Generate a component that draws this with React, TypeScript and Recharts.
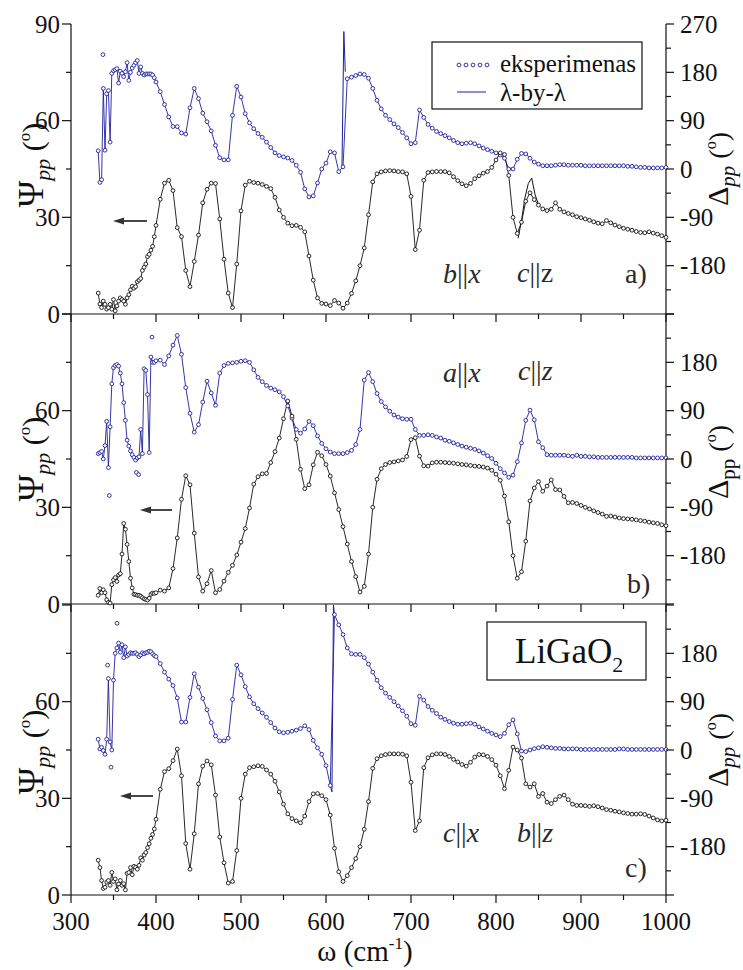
import { ComposedChart, Line, XAxis, YAxis } from 'recharts';

// shared wavenumber grid (cm-1) for all three panels
const omega = [
  332, 334, 336, 338, 340, 342, 344, 346, 348, 350,
  352, 354, 356, 358, 360, 362, 364, 366, 368, 370,
  372, 374, 376, 378, 380, 382, 384, 386, 388, 390,
  392, 394, 396, 398, 400,
  405, 410, 415, 420, 425, 430, 435, 440, 445, 450,
  455, 460, 465, 470, 475, 480, 485, 490, 495, 500,
  505, 510, 515, 520, 525, 530, 535, 540, 545, 550,
  555, 560, 565, 570, 575, 580, 585, 590, 595, 600,
  605, 610, 615, 620, 625, 630, 635, 640, 645, 650,
  655, 660, 665, 670, 675, 680, 685, 690, 695, 700,
  705, 710, 715, 720, 725, 730, 735, 740, 745, 750,
  755, 760, 765, 770, 775, 780, 785, 790, 795, 800,
  805, 810, 815, 820, 825, 830, 835, 840, 845, 850,
  855, 860, 865, 870, 875, 880, 885, 890, 895, 900,
  905, 910, 915, 920, 925, 930, 935, 940, 945, 950,
  955, 960, 965, 970, 975, 980, 985, 990, 995, 1000,
];

// panel a) b||x, c||z
const psiA = [
  6.5, 3.1, 2, 4, 3, 1.5, 2, 3, 1.5, 4.5,
  1, 2.5, 4, 5, 4.5, 4, 3, 5, 6, 7.5,
  8.6, 8, 8.5, 10, 10.5, 11, 13.5, 14.5, 15.5, 17.8,
  18.5, 19.8, 21, 24, 27.5,
  35.6, 40.6, 41.5, 38.3, 26.8, 24, 13.5, 8.5, 16.3, 24.5,
  34.5, 38.7, 40.6, 40.5, 29.5, 17, 6.5, 2, 15.5, 32,
  40, 41.2, 40.8, 40.6, 40.2, 39.6, 38.9, 36.2, 32.3, 30,
  28.2, 27.4, 27.5, 26.9, 25.5, 18, 10.5, 5, 3.3, 3.1,
  2.6, 4.2, 3.4, 1.8, 3.4, 6.4, 10.3, 15, 20.5, 30.8,
  41, 43.5, 44.1, 44.4, 44.5, 44.4, 44.2, 44.1, 43.5, 36.5,
  20, 26, 41.5, 43.9, 44.1, 44.2, 44.2, 44.2, 43.8, 42.6,
  41.4, 40.4, 39.8, 40.5, 42, 42.9, 43.7, 44.2, 45.5, 47.8,
  50, 49.5, 43, 30, 25, 28.5, 35, 37.6, 35.5, 33.8,
  32.6, 32.1, 32.5, 34.5, 32.5, 31.7, 31.2, 30.8, 30.2, 29.9,
  29.5, 29.1, 28.6, 28.2, 28, 29, 28.3, 27.6, 27.1, 26.6,
  26.3, 26, 25.6, 25.3, 25.2, 25.5, 25.1, 24.8, 24.3, 23.8,
];
const deltaA = [
  34, -25, -20, 150, 35, 140, 146, 50, 178, 183,
  185, 187, 160, 182, 178, 172, 181, 198, 165, 180,
  188, 193, 198, 202, 178, 190, 178, 175, 177, 177,
  177, 177, 175, 170, 162,
  144, 120, 97, 79, 79, 67, 65, 114, 150, 131,
  104, 88, 71, 44, 21, 17, 17, 100, 154, 134,
  103, 86, 75, 66, 59, 50, 40, 30, 25, 22.5,
  20.5, 16, 7, -6, -37, -52, -50, -26, 0, 11,
  32, 30, -5, 4, 168, 171, 174, 177, 176, 169,
  150, 128, 112, 100, 92, 84, 77, 68, 58, 47,
  49, 110, 96, 83, 76, 70, 66, 62, 58, 53,
  49, 47, 48, 49, 47, 43, 39, 36, 33, 30,
  26, 20, 0, 0, 18, 29, 28, 20, 13, 9,
  6, 6, 6, 7, 8, 8, 7, 7, 7, 7,
  6, 6, 6, 6, 6, 6, 6, 6, 6, 6,
  5, 5, 4, 3, 3, 2, 2, 2, 2, 3,
];
const strayOmegaA = [337.6];
const strayDeltaA = [213];
const fitPsiOmegaA = [826, 830, 834, 838, 842, 846, 850];
const fitPsiA = [23.5, 29, 36, 40.5, 42.2, 37, 34];
const fitDeltaOmegaA = [618.8, 621, 622.7];
const fitDeltaA = [4, 256, 181];

// panel b) a||x, c||z
const psiB = [
  2.7, 4.8, 3.5, 4.4, 3.5, 1.3, 0.5, 0.3, 6, 7.5,
  8.2, 7, 9, 9.4, 15.5, 25, 23.2, 18.5, 13.2, 8,
  5, 3, 2.9, 2.7, 2.7, 2.4, 2, 1.6, 1.4, 1.2,
  1.8, 3, 3.4, 3.3, 3.5,
  4.3, 4, 5, 11, 20.5, 32.5, 39.8, 37, 22, 8.4,
  4, 6.3, 10.4, 3.5, 4.5, 7.1, 9.8, 12, 15.2, 19.2,
  23.4, 29.8, 37.2, 39.5, 40.4, 40.5, 43.9, 47.3, 51.5, 57.5,
  63, 58.3, 51.1, 41.8, 35.8, 37, 43.2, 47.1, 46, 43.3,
  39.7, 34.5, 29.3, 24, 18.6, 13.2, 8.5, 3.7, 5.5, 15.5,
  30, 38.7, 42, 43.3, 43.9, 44.1, 44.4, 44.7, 45.8, 51,
  51.6, 45.9, 42.9, 42.8, 43.8, 44, 44, 43.9, 43.8, 43.7,
  43.5, 43.3, 43.2, 43, 42.8, 42.7, 42.5, 42.2, 41.5, 40.3,
  38.4, 33.5, 25.5, 15, 8, 10, 19.5, 32, 36, 38,
  35, 36.6, 38.5, 35.5, 35.4, 33.4, 31.4, 31.5, 31.2, 30.6,
  30, 29.5, 28.9, 28.4, 27.9, 27.2, 27.3, 27, 26.7, 26.5,
  26.4, 26.3, 26.1, 25.9, 25.7, 25.4, 25.2, 25, 24.6, 24.3,
];
const deltaB = [
  10, 12, 14, 0, 25, 70, -16, 60, 140, 170,
  174, 176, 173, 160, 140, 105, 72, 35, 24, 15,
  8, 3, -2, 2, 4, 55, 10, 168, 165, 120,
  12, 190, 180, 180, 183,
  184, 176, 192, 212, 230, 195, 133, 85, 50, 64,
  106, 145, 123, 100, 160, 174, 178, 179, 180, 182,
  183, 180, 166, 152, 144, 137, 132, 129, 125, 116,
  99, 76, 55, 48, 56, 70, 62, 43, 29, 19,
  13, 10, 10, 10, 12, 16, 27, 55, 147, 161,
  144, 122, 107, 97, 89, 82, 78, 75, 74, 74,
  55, 44, 44, 45, 44, 41, 39, 35, 33, 30,
  27, 24, 22, 20, 18, 15, 11, 6, 1, -8,
  -18, -26, -34, -30, -5, 30, 72, 91, 73, 32,
  21, 8, 7, 7, 7, 7, 6, 5, 7, 5,
  5, 4, 4, 3, 3, 3, 3, 3, 3, 3,
  3, 3, 2, 2, 2, 2, 2, 2, 2, 2,
];
const strayOmegaB = [345.1, 376.9, 379.6, 395.3];
const strayDeltaB = [-68, -25, -29, 227];

// panel c) c||x, b||z
const psiC = [
  10.8, 8.5, 4.5, 2, 2.4, 4, 4.5, 3, 7, 4.2,
  5, 1.6, 3.4, 4.5, 3, 3.5, 1.6, 6.7, 7, 8.5,
  6.3, 8.9, 8.6, 8, 9.2, 11.5, 10.8, 12.4, 13.2, 14.7,
  15.9, 17.6, 18.8, 20.5, 23.5,
  32.8, 38.3, 39.2, 41.7, 45.3, 37, 16, 8, 19, 34.5,
  40, 41.6, 40.4, 31, 18, 10, 3.7, 4.2, 13.8, 30,
  37.5, 39.5, 39.8, 40.1, 39.9, 38.8, 37.5, 35.3, 32, 28.2,
  25.2, 23.7, 23, 22.4, 24.5, 29, 31.4, 31.5, 30.8, 29.6,
  24.8, 14.5, 7.2, 4.2, 6, 8.5, 11.3, 15, 20.4, 29,
  39.3, 42.3, 43.2, 43.6, 43.8, 43.8, 43.8, 43.7, 43.2, 35,
  20, 23, 39.5, 42.6, 43.5, 43.8, 43.8, 43.6, 43, 42.1,
  41.3, 40.5, 40, 41.2, 42.8, 43.6, 43.5, 43, 42, 40.3,
  37, 33, 38.7, 45.9, 45, 42.5, 34.5, 33.5, 34.5, 30.6,
  31.5, 28.8, 28.4, 29.6, 30.6, 31, 29.6, 28.2, 27.8, 27.8,
  27.7, 27.5, 27.7, 27.4, 27, 26.5, 26.3, 26, 25.8, 25.5,
  25.3, 25.1, 25.1, 25.2, 25, 24.5, 23.9, 23.3, 23, 23.2,
];
const deltaC = [
  20, 2, 5, -1, -8, 20, 133, 15, 0, 130,
  180, 190, 199, 182, 196, 172, 192, 175, 178, 181,
  180, 180, 181, 178, 174, 177, 181, 179, 181, 182,
  184, 183, 179, 176, 174,
  161, 145, 132, 120, 97, 52, 52, 98, 142, 117,
  96, 75, 51, 26, 17, 17, 22, 94, 158, 140,
  118, 99, 86, 77, 69, 61, 51, 41, 34, 32,
  33, 35, 37, 40, 45, 38, 18, 4, -8, -29,
  -66, 252, 233, 215, 190, 179, 178, 178, 172, 160,
  145, 130, 116, 106, 98, 90, 82, 73, 63, 49,
  46, 100, 93, 81, 74, 68, 61, 57, 53, 50,
  48, 48, 49, 50, 48, 43, 39, 35, 31, 28,
  25, 31, 47, 56, 30, -2, -3, 0, 2.5, 4,
  6, 5, 4, 3, 3, 2, 2, 2, 2, 1,
  1, 1, 1, 1, 1, 1, 1, 1, 2, 2,
  1, 1, 1, 1, 1, 1, 1, 1, 1, 1,
];
const strayOmegaC = [343.1, 347.1, 354.1];
const strayDeltaC = [158, -32, 236];
const fitDeltaOmegaC = [605, 607, 608.8, 610];
const fitDeltaC = [-66, -78, 270, 252];

const xTicks = [300, 350, 400, 450, 500, 550, 600, 650, 700, 750, 800, 850, 900, 950, 1000];
const psiTicks = [0, 15, 30, 45, 60, 75, 90];
const deltaTicks = [-270, -225, -180, -135, -90, -45, 0, 45, 90, 135, 180, 225, 270];

const INK = '#111';
const BLUE = '#1f1f9c';
const SERIF = '"Liberation Serif", "Times New Roman", serif';

const toRows = (ws: number[], vs: number[]) => ws.map((w, i) => ({ w, v: vs[i] }));

function LeftTick(props: any) {
  const { x, y, payload, showTop } = props;
  const v = payload.value;
  const major = v % 30 === 0;
  return (
    <g>
      <line x1={x} x2={x - (major ? 9 : 5)} y1={y} y2={y} stroke={INK} strokeWidth={1.2} />
      {major && (v < 90 || showTop) && (
        <text x={x - 11} y={y} dy="0.34em" textAnchor="end" fontFamily={SERIF} fontSize={25} fill={INK}>
          {v}
        </text>
      )}
    </g>
  );
}

function RightTick(props: any) {
  const { x, y, payload, showTop } = props;
  const v = payload.value;
  const major = v % 90 === 0;
  return (
    <g>
      <line x1={x} x2={x + (major ? 8 : 5)} y1={y} y2={y} stroke={INK} strokeWidth={1.2} />
      {major && v > -270 && (v < 270 || showTop) && (
        <text x={x + 14} y={y} dy="0.34em" textAnchor="start" fontFamily={SERIF} fontSize={25} fill={INK}>
          {v}
        </text>
      )}
    </g>
  );
}

function BottomTick(props: any) {
  const { x, y, payload, labels } = props;
  const v = payload.value;
  const major = v % 100 === 0;
  return (
    <g>
      <line x1={x} x2={x} y1={y} y2={y + (major ? 8 : 5)} stroke={INK} strokeWidth={1.2} />
      {labels && major && (
        <text x={x} y={y + 26} dy="0.34em" textAnchor="middle" fontFamily={SERIF} fontSize={25} fill={INK}>
          {v}
        </text>
      )}
    </g>
  );
}

function TopTick(props: any) {
  const { x, y } = props;
  return <line x1={x} x2={x} y1={y} y2={y + 6} stroke={INK} strokeWidth={1.2} />;
}

type PanelProps = {
  top: number;
  height: number;
  marginTop: number;
  xAxisHeight: number;
  psi: number[];
  delta: number[];
  strayW: number[];
  strayD: number[];
  fitPsiW?: number[];
  fitPsi?: number[];
  fitDeltaW?: number[];
  fitDelta?: number[];
  showTopLabels: boolean;
  showXLabels: boolean;
};

function Panel(p: PanelProps) {
  const dotBlue = { r: 1.9, fill: '#fff', stroke: BLUE, strokeWidth: 0.9 };
  const dotBlack = { r: 1.9, fill: '#fff', stroke: INK, strokeWidth: 0.9 };
  return (
    <div style={{ position: 'absolute', left: 0, top: p.top }}>
      <ComposedChart width={743} height={p.height} margin={{ top: p.marginTop, right: 0, bottom: 0, left: 0 }}>
        <XAxis
          xAxisId="w"
          dataKey="w"
          type="number"
          domain={[300, 1000]}
          ticks={xTicks}
          interval={0}
          height={p.xAxisHeight}
          tickSize={0}
          tickMargin={0}
          tickLine={false}
          axisLine={{ stroke: INK, strokeWidth: 1.2 }}
          tick={(t: any) => <BottomTick {...t} labels={p.showXLabels} />}
        />
        <XAxis
          xAxisId="top"
          orientation="top"
          dataKey="w"
          type="number"
          domain={[300, 1000]}
          ticks={xTicks}
          interval={0}
          height={0}
          tickSize={0}
          tickMargin={0}
          tickLine={false}
          axisLine={{ stroke: INK, strokeWidth: 1.2 }}
          tick={(t: any) => <TopTick {...t} />}
        />
        <YAxis
          yAxisId="psi"
          orientation="left"
          type="number"
          domain={[0, 90]}
          ticks={psiTicks}
          interval={0}
          width={71}
          tickSize={0}
          tickMargin={0}
          tickLine={false}
          axisLine={{ stroke: INK, strokeWidth: 1.2 }}
          tick={(t: any) => <LeftTick {...t} showTop={p.showTopLabels} />}
        />
        <YAxis
          yAxisId="delta"
          orientation="right"
          type="number"
          domain={[-270, 270]}
          ticks={deltaTicks}
          interval={0}
          width={77}
          tickSize={0}
          tickMargin={0}
          tickLine={false}
          axisLine={{ stroke: INK, strokeWidth: 1.2 }}
          tick={(t: any) => <RightTick {...t} showTop={p.showTopLabels} />}
        />
        <Line xAxisId="w" yAxisId="delta" data={toRows(omega, p.delta)} dataKey="v" type="linear" stroke={BLUE} strokeWidth={0.9} dot={dotBlue} activeDot={false} isAnimationActive={false} />
        <Line xAxisId="w" yAxisId="delta" data={toRows(p.strayW, p.strayD)} dataKey="v" type="linear" stroke="none" dot={dotBlue} activeDot={false} isAnimationActive={false} />
        {p.fitDeltaW && p.fitDelta && (
          <Line xAxisId="w" yAxisId="delta" data={toRows(p.fitDeltaW, p.fitDelta)} dataKey="v" type="linear" stroke={BLUE} strokeWidth={1} dot={false} activeDot={false} isAnimationActive={false} />
        )}
        <Line xAxisId="w" yAxisId="psi" data={toRows(omega, p.psi)} dataKey="v" type="linear" stroke={INK} strokeWidth={0.9} dot={dotBlack} activeDot={false} isAnimationActive={false} />
        {p.fitPsiW && p.fitPsi && (
          <Line xAxisId="w" yAxisId="psi" data={toRows(p.fitPsiW, p.fitPsi)} dataKey="v" type="linear" stroke={INK} strokeWidth={1} dot={false} activeDot={false} isAnimationActive={false} />
        )}
      </ComposedChart>
    </div>
  );
}

function PsiTitle({ cy }: { cy: number }) {
  return (
    <text transform={`translate(43, ${cy}) rotate(-90)`} textAnchor="middle" fontFamily={SERIF} fill={INK} fontSize={30}>
      <tspan fontSize={36}>Ψ</tspan>
      <tspan fontSize={22} fontStyle="italic" dy={7}>pp</tspan>
      <tspan dy={-7}> (</tspan>
      <tspan fontSize={17} dy={-13}>o</tspan>
      <tspan dy={13}>)</tspan>
    </text>
  );
}

function DeltaTitle({ cy, italic }: { cy: number; italic: boolean }) {
  return (
    <text transform={`translate(728, ${cy}) rotate(-90)`} textAnchor="middle" fontFamily={SERIF} fill={INK} fontSize={28}>
      <tspan fontSize={30}>Δ</tspan>
      <tspan fontSize={21} fontStyle={italic ? 'italic' : 'normal'} dy={7}>pp</tspan>
      <tspan dy={-7}> (</tspan>
      <tspan fontSize={16} dy={-12}>o</tspan>
      <tspan dy={12}>)</tspan>
    </text>
  );
}

function Pair({ x, y, a, b, bItalic = true }: { x: number; y: number; a: string; b: string; bItalic?: boolean }) {
  return (
    <text x={x} y={y} fontFamily={SERIF} fontSize={28} fill="#2a2a2a">
      <tspan fontStyle="italic">{a}</tspan>
      <tspan>||</tspan>
      <tspan fontStyle={bItalic ? 'italic' : 'normal'}>{b}</tspan>
    </text>
  );
}

function Arrow({ x1, x2, y }: { x1: number; x2: number; y: number }) {
  return (
    <g>
      <line x1={x1 + 8} x2={x2} y1={y} y2={y} stroke="#333" strokeWidth={1.8} />
      <polygon points={`${x1},${y} ${x1 + 11},${y - 3.5} ${x1 + 11},${y + 3.5}`} fill="#333" />
    </g>
  );
}

function Overlay() {
  return (
    <svg width={743} height={970} style={{ position: 'absolute', left: 0, top: 0, pointerEvents: 'none' }}>
      <PsiTitle cy={165} />
      <PsiTitle cy={459} />
      <PsiTitle cy={752} />
      <DeltaTitle cy={169} italic />
      <DeltaTitle cy={462} italic={false} />
      <DeltaTitle cy={750} italic />

      <Arrow x1={113} x2={147} y={221} />
      <Arrow x1={140} x2={172} y={510} />
      <Arrow x1={120} x2={153} y={796} />

      <rect x={432} y={42} width={210} height={67} fill="none" stroke={INK} strokeWidth={1.2} />
      {[459, 466, 473, 480, 487].map((cx) => (
        <circle key={cx} cx={cx} cy={65} r={1.9} fill="#fff" stroke={BLUE} strokeWidth={0.9} />
      ))}
      <text x={500} y={72} fontFamily={SERIF} fontSize={25} fill={INK}>eksperimenas</text>
      <line x1={457} x2={486} y1={92} y2={92} stroke={BLUE} strokeWidth={1} />
      <text x={500} y={101} fontFamily={SERIF} fontSize={25} fill={INK}>λ-by-λ</text>

      <Pair x={443} y={283} a="b" b="x" />
      <Pair x={517} y={282} a="c" b="z" bItalic={false} />
      <text x={625} y={283} fontFamily={SERIF} fontSize={28} fill="#2a2a2a">a)</text>

      <Pair x={443} y={382} a="a" b="x" />
      <Pair x={518} y={380} a="c" b="z" />
      <text x={627} y={593} fontFamily={SERIF} fontSize={28} fill="#2a2a2a">b)</text>

      <Pair x={443} y={842} a="c" b="x" />
      <Pair x={517} y={842} a="b" b="z" />
      <text x={625} y={877} fontFamily={SERIF} fontSize={28} fill="#2a2a2a">c)</text>

      <rect x={487} y={622} width={159} height={58} fill="none" stroke={INK} strokeWidth={1.2} />
      <text x={515} y={663} fontFamily={SERIF} fontSize={35} fill={INK}>
        LiGaO<tspan fontSize={22} dy={9}>2</tspan>
      </text>

      <text x={365} y={961} textAnchor="middle" fontFamily={SERIF} fontSize={29} fill={INK}>
        ω (cm<tspan fontSize={17} dy={-12}>-1</tspan>
        <tspan dy={12}>)</tspan>
      </text>
    </svg>
  );
}

export default function App() {
  return (
    <div style={{ position: 'absolute', left: 0, top: 0, width: 743, height: 970, background: '#fff' }}>
      <Panel
        top={0}
        height={340}
        marginTop={24}
        xAxisHeight={26}
        psi={psiA}
        delta={deltaA}
        strayW={strayOmegaA}
        strayD={strayDeltaA}
        fitPsiW={fitPsiOmegaA}
        fitPsi={fitPsiA}
        fitDeltaW={fitDeltaOmegaA}
        fitDelta={fitDeltaA}
        showTopLabels
        showXLabels={false}
      />
      <Panel
        top={290}
        height={340}
        marginTop={24}
        xAxisHeight={26}
        psi={psiB}
        delta={deltaB}
        strayW={strayOmegaB}
        strayD={strayDeltaB}
        showTopLabels={false}
        showXLabels={false}
      />
      <Panel
        top={580}
        height={390}
        marginTop={25}
        xAxisHeight={75}
        psi={psiC}
        delta={deltaC}
        strayW={strayOmegaC}
        strayD={strayDeltaC}
        fitDeltaW={fitDeltaOmegaC}
        fitDelta={fitDeltaC}
        showTopLabels={false}
        showXLabels
      />
      <Overlay />
    </div>
  );
}
